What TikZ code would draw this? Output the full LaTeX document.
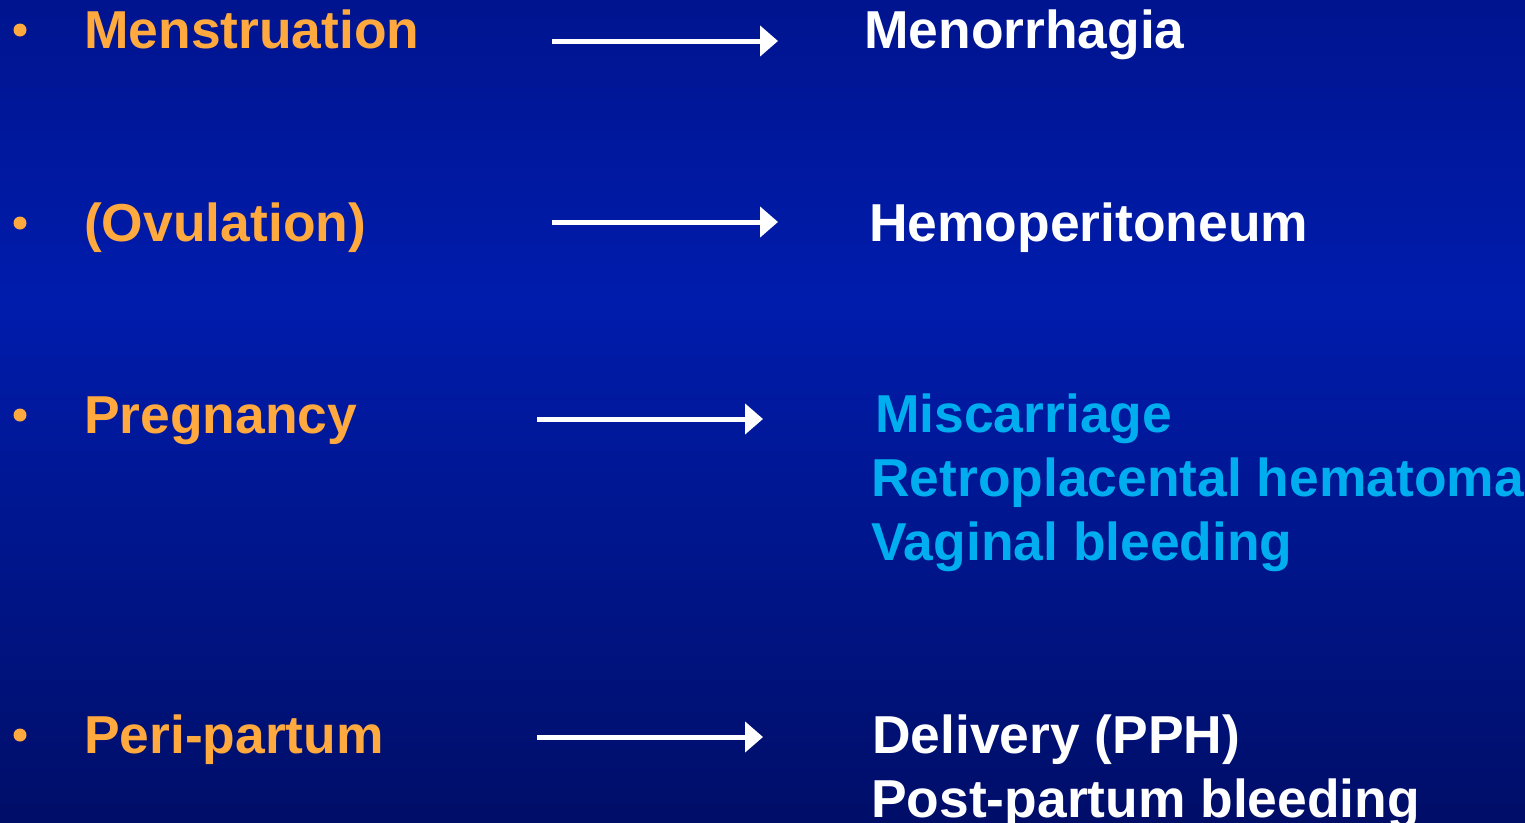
\documentclass[tikz,border=0pt]{standalone}
\usepackage{fontspec}
\setmainfont{Liberation Sans}
\usetikzlibrary{arrows.meta}
\definecolor{bgtop}{HTML}{00148F}
\definecolor{bgmid}{HTML}{001CAC}
\definecolor{bgbot}{HTML}{000E68}
\definecolor{orangetxt}{HTML}{FFA93E}
\definecolor{cyantxt}{HTML}{00AEEF}
\pgfdeclareverticalshading{bgshade}{100bp}{color(0bp)=(bgbot); color(25bp)=(bgbot); color(56.75bp)=(bgmid); color(75bp)=(bgtop); color(100bp)=(bgtop)}
\tikzset{
  lbl/.style={anchor=base west, inner sep=0pt, font=\fontsize{53.4}{64}\selectfont\bfseries},
  lefttxt/.style={lbl, text=orangetxt},
  whitetxt/.style={lbl, text=white},
  bluetxt/.style={lbl, text=cyantxt},
  bulletdot/.style={circle, fill=orangetxt, inner sep=0pt, minimum size=13pt},
  flow/.style={draw=white, line width=5pt, -{Triangle[length=18pt,width=30pt]}}
}
\begin{document}
\begin{tikzpicture}[x=1pt,y=-1pt]
\useasboundingbox (0,0) rectangle (1525,822);
\shade[shading=bgshade] (0,0) rectangle (1525,822);

\node[bulletdot] (b1) at (20,30) {};
\node[bulletdot] (b2) at (20,223) {};
\node[bulletdot] (b3) at (20,415) {};
\node[bulletdot] (b4) at (20,735) {};

\node[lefttxt] (l1) at (84,48) {Menstruation};
\node[lefttxt] (l2) at (84,241) {(Ovulation)};
\node[lefttxt] (l3) at (84,433) {Pregnancy};
\node[lefttxt] (l4) at (84,753) {Peri-partum};

\node[whitetxt] (r1) at (864,48) {Menorrhagia};
\node[whitetxt] (r2) at (869,241) {Hemoperitoneum};
\node[bluetxt] (r3a) at (875,432) {Miscarriage};
\node[bluetxt] (r3b) at (871,496) {Retroplacental hematoma};
\node[bluetxt] (r3c) at (871,560) {Vaginal bleeding};
\node[whitetxt] (r4a) at (872,753) {Delivery (PPH)};
\node[whitetxt] (r4b) at (871,817) {Post-partum bleeding};

\coordinate (a1s) at (552,41); \coordinate (a1e) at (778,41);
\coordinate (a2s) at (552,222); \coordinate (a2e) at (778,222);
\coordinate (a3s) at (537,419); \coordinate (a3e) at (763,419);
\coordinate (a4s) at (537,737); \coordinate (a4e) at (763,737);
\draw[flow] (a1s) -- (a1e);
\draw[flow] (a2s) -- (a2e);
\draw[flow] (a3s) -- (a3e);
\draw[flow] (a4s) -- (a4e);
\end{tikzpicture}
\end{document}
